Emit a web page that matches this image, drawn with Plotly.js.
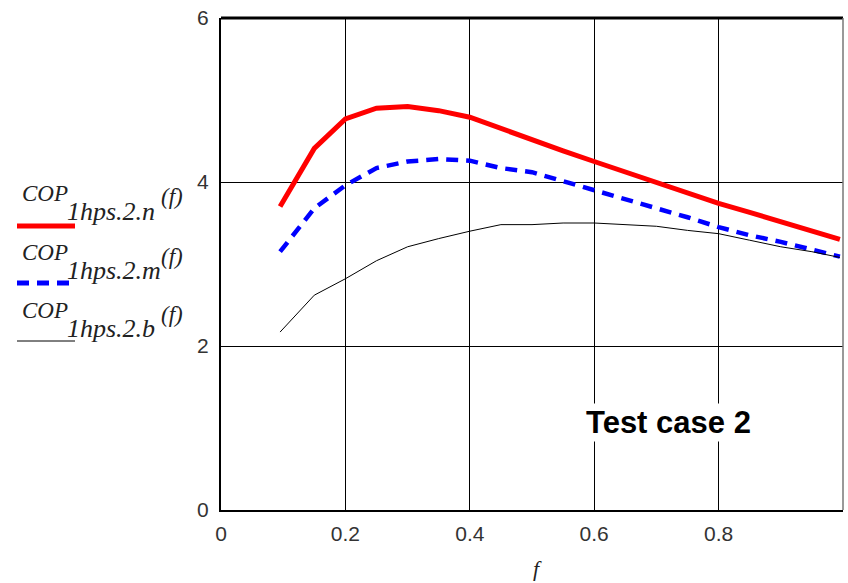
<!DOCTYPE html>
<html>
<head>
<meta charset="utf-8">
<script src="https://cdn.plot.ly/plotly-3.0.1.min.js"></script>
<style>html,body{margin:0;padding:0;background:#fff;}#chart{width:848px;height:583px;}</style>
</head>
<body>
<div id="chart"></div>
<script>
// ---- data ----
var fValues = [0.095, 0.15, 0.2, 0.25, 0.3, 0.35, 0.4, 0.45, 0.5, 0.55, 0.6, 0.65, 0.7, 0.75, 0.8, 0.85, 0.9, 0.95, 0.995];
var copN = [3.70, 4.41, 4.77, 4.90, 4.92, 4.87, 4.79, 4.65, 4.52, 4.38, 4.25, 4.12, 4.00, 3.87, 3.74, 3.63, 3.52, 3.41, 3.30];
var copM = [3.15, 3.68, 3.96, 4.17, 4.25, 4.28, 4.26, 4.17, 4.12, 4.01, 3.90, 3.79, 3.69, 3.57, 3.45, 3.35, 3.27, 3.18, 3.09];
var copB = [2.17, 2.62, 2.82, 3.04, 3.21, 3.31, 3.40, 3.48, 3.48, 3.50, 3.50, 3.48, 3.46, 3.41, 3.37, 3.29, 3.21, 3.15, 3.08];
var xTickVals = [0, 0.2, 0.4, 0.6, 0.8];
var xTickText = ['0', '0.2', '0.4', '0.6', '0.8'];
var yTickVals = [0, 2, 4, 6];
var yTickText = ['0', '2', '4', '6'];
var seriesSubs = ['1hps.2.n', '1hps.2.m', '1hps.2.b'];
var caseLabel = 'Test case 2';

// ---- layout helpers (pixel -> paper) ----
var L = 221, R = 5, T = 18, B = 73, W = 848, H = 583;
var pw = W - L - R, ph = H - T - B;
function px(x) { return (x - L) / pw; }
function py(y) { return (H - B - y) / ph; }

var traces = [
  {x: fValues, y: copN, mode: 'lines', line: {color: '#ff0000', width: 5}, showlegend: false, hoverinfo: 'skip'},
  {x: fValues, y: copM, mode: 'lines', line: {color: '#0000ff', width: 4.5, dash: '12px,8px'}, showlegend: false, hoverinfo: 'skip'},
  {x: fValues, y: copB, mode: 'lines', line: {color: '#000000', width: 1}, showlegend: false, hoverinfo: 'skip'}
];

var legFont = {family: 'Liberation Serif, serif', size: 23, color: '#222'};
var subFont = {family: 'Liberation Serif, serif', size: 26, color: '#222'};
var rowCop = [193, 252, 310];
var rowSub = [211, 270, 328];
var rowLine = [226, 283, 341];
var lineStyles = [
  {color: '#ff0000', width: 5},
  {color: '#0000ff', width: 5, dash: '12px,8px'},
  {color: '#000000', width: 1}
];

var annotations = [];
var shapes = [];
for (var i = 0; i < 3; i++) {
  annotations.push({xref: 'paper', yref: 'paper', x: px(21), y: py(rowCop[i]), xanchor: 'left', yanchor: 'middle',
    text: '<i>COP</i>', showarrow: false, font: legFont, borderpad: 0});
  annotations.push({xref: 'paper', yref: 'paper', x: px(66), y: py(rowSub[i]), xanchor: 'left', yanchor: 'middle',
    text: '<i>' + seriesSubs[i] + '</i>', showarrow: false, font: subFont, borderpad: 0});
  annotations.push({xref: 'paper', yref: 'paper', x: px(160), y: py(rowCop[i] + 4), xanchor: 'left', yanchor: 'middle',
    text: '<i>(f)</i>', showarrow: false, font: legFont, borderpad: 0});
  shapes.push({type: 'line', xref: 'paper', yref: 'paper', x0: px(17), x1: px(75), y0: py(rowLine[i]), y1: py(rowLine[i]),
    line: lineStyles[i]});
}
annotations.push({xref: 'paper', yref: 'paper', x: px(668), y: py(422), xanchor: 'center', yanchor: 'middle',
  text: '<b>' + caseLabel + '</b>', showarrow: false, bgcolor: '#ffffff', borderpad: 1,
  font: {family: 'Liberation Sans, Arial, sans-serif', size: 31, color: '#000'}});
annotations.push({xref: 'paper', yref: 'paper', x: px(537), y: py(582), xanchor: 'center', yanchor: 'bottom',
  text: '<i>f</i>', showarrow: false, borderpad: 0, font: {family: 'Liberation Serif, serif', size: 22, color: '#222'}});

// border: thick top, thin grey right
shapes.push({type: 'line', xref: 'paper', yref: 'paper', x0: 0, x1: 1, y0: 1, y1: 1, line: {color: '#000', width: 3}});
shapes.push({type: 'line', xref: 'paper', yref: 'paper', x0: 1, x1: 1, y0: 0, y1: 1, line: {color: '#777', width: 1.5}});

var tickFont = {family: 'Liberation Sans, Arial, sans-serif', size: 21, color: '#333'};
var layout = {
  width: W, height: H,
  margin: {l: L, r: R, t: T, b: B, pad: 0},
  paper_bgcolor: '#fff', plot_bgcolor: '#fff',
  showlegend: false,
  xaxis: {range: [0, 1], tickvals: xTickVals, ticktext: xTickText, showgrid: true, gridcolor: '#000', gridwidth: 1,
    zeroline: false, showline: true, linecolor: '#000', linewidth: 2, ticks: 'outside', ticklen: 4, tickcolor: 'rgba(0,0,0,0)',
    tickfont: tickFont, fixedrange: true},
  yaxis: {range: [0, 6], tickvals: yTickVals, ticktext: yTickText, showgrid: true, gridcolor: '#000', gridwidth: 1,
    zeroline: false, showline: true, linecolor: '#000', linewidth: 2, ticks: 'outside', ticklen: 6, tickcolor: 'rgba(0,0,0,0)',
    tickfont: tickFont, fixedrange: true},
  annotations: annotations,
  shapes: shapes
};

Plotly.newPlot('chart', traces, layout, {staticPlot: true, displayModeBar: false});
</script>
</body>
</html>
